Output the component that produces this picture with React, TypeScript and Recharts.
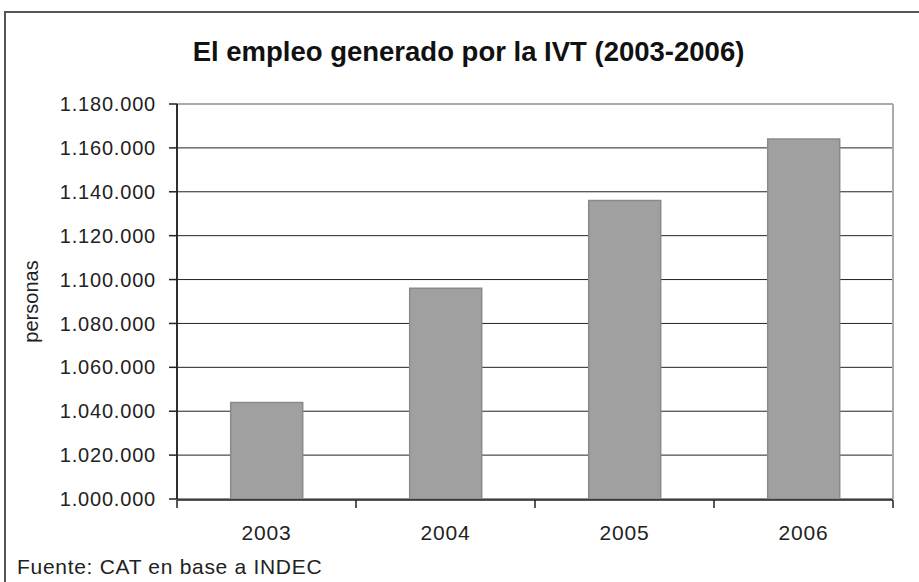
import React from "react";
import {
  BarChart,
  Bar,
  XAxis,
  YAxis,
  CartesianGrid,
  ReferenceLine,
} from "recharts";

const years = ["2003", "2004", "2005", "2006"];
const empleo = [1044000, 1096000, 1136000, 1164000];
const yTicks = [
  1000000, 1020000, 1040000, 1060000, 1080000, 1100000, 1120000, 1140000,
  1160000, 1180000,
];
// category boundaries for the x tick marks
const bounds = [0, 1, 2, 3, 4];

const data = years.map((y, i) => ({ year: y, slot: i + 0.5, personas: empleo[i] }));

const font = "'Liberation Sans', Arial, sans-serif";

// 1.180.000 style
const fmt = (v: number) => String(v).replace(/\B(?=(\d{3})+(?!\d))/g, ".");

const App = () => {
  return (
    <div
      style={{
        position: "absolute",
        left: 0,
        top: 0,
        width: 919,
        height: 582,
        overflow: "hidden",
        background: "#fff",
        fontFamily: font,
      }}
    >
      {/* outer frame, cut off on the right and bottom */}
      <div
        style={{
          position: "absolute",
          left: 4,
          top: 11,
          width: 1000,
          height: 1000,
          borderLeft: "2px solid #555",
          borderTop: "2px solid #555",
        }}
      />
      <div
        style={{
          position: "absolute",
          left: 9,
          width: 919,
          top: 36,
          textAlign: "center",
          fontSize: 27.5,
          fontWeight: "bold",
          color: "#111",
        }}
      >
        El empleo generado por la IVT (2003-2006)
      </div>
      <div
        style={{
          position: "absolute",
          left: 17,
          top: 555,
          fontSize: 21,
          color: "#222",
          letterSpacing: 0.7,
        }}
      >
        Fuente: CAT en base a INDEC
      </div>
      <div style={{ position: "absolute", left: 0, top: 0 }}>
        <BarChart
          width={919}
          height={582}
          data={data}
          margin={{ top: 104, right: 26, bottom: 81, left: 7 }}
          barCategoryGap="30%"
        >
          <CartesianGrid vertical={false} stroke="#222" strokeOpacity={1} />
          <XAxis
            xAxisId="edge"
            dataKey="slot"
            type="number"
            domain={[0, 4]}
            allowDataOverflow
            ticks={bounds}
            height={1}
            tickFormatter={() => ""}
            tickSize={8}
            axisLine={{ stroke: "#222", strokeWidth: 1.5 }}
            tickLine={{ stroke: "#222", strokeWidth: 1.5 }}
          />
          <XAxis
            dataKey="year"
            xAxisId="cat"
            height={1}
            tickLine={false}
            axisLine={false}
            tickSize={0}
            tickMargin={26}
            tick={{ fontSize: 21, fill: "#222", fontFamily: font, letterSpacing: 0.8 }}
          />
          <YAxis
            width={170}
            domain={[1000000, 1180000]}
            ticks={yTicks}
            tickFormatter={fmt}
            tickSize={8}
            tickMargin={13}
            axisLine={{ stroke: "#222", strokeWidth: 1.5 }}
            tickLine={{ stroke: "#222", strokeWidth: 1.5 }}
            tick={{ fontSize: 20, fill: "#222", fontFamily: font, letterSpacing: 0.8 }}
            label={{
              value: "personas",
              angle: -90,
              position: "insideLeft",
              offset: 24,
              style: { textAnchor: "middle", fontSize: 20, fill: "#222", fontFamily: font },
            }}
          />
          <ReferenceLine y={1180000} xAxisId="cat" stroke="#aaa" strokeWidth={2} />
          <ReferenceLine x={4} xAxisId="edge" stroke="#aaa" strokeWidth={2} />
          <ReferenceLine x={0} xAxisId="edge" stroke="#222" strokeWidth={1.5} />
          <Bar
            dataKey="personas"
            xAxisId="cat"
            fill="#a0a0a0"
            stroke="#8a8a8a"
            strokeWidth={1.5}
            isAnimationActive={false}
          />
        </BarChart>
      </div>
    </div>
  );
};

export default App;
